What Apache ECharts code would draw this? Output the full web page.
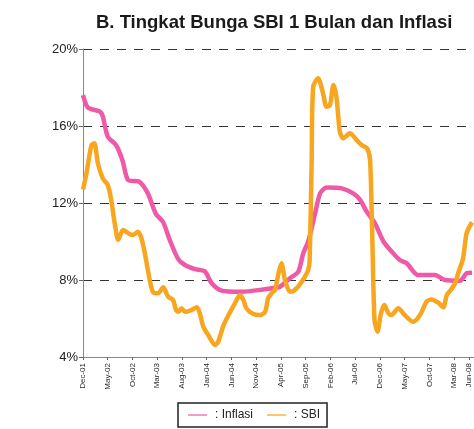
<!DOCTYPE html>
<html>
<head>
<meta charset="utf-8">
<script src="https://cdn.jsdelivr.net/npm/echarts@6/dist/echarts.min.js"></script>
<style>
  html, body { margin: 0; padding: 0; background: #fff; }
  #main { width: 474px; height: 429px; }
</style>
</head>
<body>
<div id="main"></div>
<script>
// month index 0 = Dec-01
var tickMonths = [0, 5, 10, 15, 20, 25, 30, 35, 40, 45, 50, 55, 60, 65, 70, 75, 78];
var tickLabels = ["Dec-01", "May-02", "Oct-02", "Mar-03", "Aug-03", "Jan-04", "Jun-04", "Nov-04", "Apr-05",
  "Sep-05", "Feb-06", "Jul-06", "Dec-06", "May-07", "Oct-07", "Mar-08", "Jun-08"];

var inflasiMonth = [0, 1, 3.4, 4, 5, 6.7, 8, 9.1, 11.4, 13.1, 14.7, 16.2, 17.5, 19.2, 20.6, 22.6, 24.6, 26, 28, 32,
  36.8, 38.8, 39.8, 41.8, 43.5, 44.5, 45.5, 46.9, 47.9, 49.2, 52.3, 54.6, 56, 57.2, 59, 60.7, 62.4, 64, 65.4,
  67.7, 71.1, 73.1, 76.2, 77.5, 78.6];
var inflasiValue = [17.6, 16.95, 16.75, 16.5, 15.45, 15.0, 14.2, 13.2, 13.1, 12.5, 11.45, 11.0, 10.1, 9.1, 8.78,
  8.57, 8.45, 7.83, 7.45, 7.39, 7.52, 7.6, 7.65, 8.09, 8.43, 9.39, 10.0, 11.46, 12.5, 12.8, 12.76, 12.5, 12.16,
  11.6, 10.94, 10.0, 9.47, 9.04, 8.87, 8.26, 8.26, 8.0, 7.96, 8.35, 8.38];

var sbiMonth = [0, 0.7, 1.7, 2.3, 3, 4, 5, 5.7, 6.4, 7.1, 7.4, 8.1, 9.4, 10.1, 11.1, 11.8, 12.5, 13.1, 14.1, 15.2,
  16.2, 17.2, 18.2, 18.8, 19.3, 19.9, 20.6, 21.9, 23, 23.6, 24.3, 25.3, 26.7, 27.3, 28.3, 29.4, 30.7, 31.7, 32.4,
  33, 34.4, 35.8, 36.8, 37.4, 38.1, 38.8, 39.5, 40.1, 40.8, 41.8, 42.8, 44.2, 45.5, 45.8, 46.2, 46.5, 47.5, 48.5,
  49.2, 49.9, 50.6, 51.2, 51.9, 52.6, 53.9, 55.3, 56.3, 57.4, 58, 58.4, 58.9, 59.5, 60.2, 60.9, 61.7, 62.3, 63.7,
  65, 66.7, 68.1, 69.4, 70.4, 71.8, 72.8, 73.5, 74.3, 75.2, 75.8, 76.8, 77.5, 78.6];
var sbiValue = [12.7, 13.54, 15.0, 15.1, 14.06, 13.28, 12.94, 12.16, 10.95, 10.08, 10.25, 10.6, 10.39, 10.34,
  10.51, 10.17, 9.39, 8.52, 7.39, 7.31, 7.62, 7.13, 6.96, 6.44, 6.35, 6.53, 6.35, 6.44, 6.58, 6.27, 5.58, 5.14,
  4.62, 4.79, 5.58, 6.18, 6.79, 7.22, 6.96, 6.53, 6.23, 6.18, 6.35, 7.05, 7.31, 7.48, 8.35, 8.87, 8.0, 7.39,
  7.48, 7.91, 8.52, 9.04, 14.23, 18.04, 18.48, 17.7, 17.0, 17.09, 18.13, 17.52, 15.7, 15.36, 15.62, 15.27, 15.01,
  14.84, 14.23, 10.77, 5.92, 5.31, 6.27, 6.7, 6.27, 6.18, 6.53, 6.18, 5.83, 6.18, 6.87, 6.99, 6.82, 6.58, 7.22,
  7.48, 7.83, 8.35, 9.13, 10.43, 11.0];

function pairs(xs, ys) {
  return xs.map(function (x, i) { return [x, ys[i]]; });
}

var chart = echarts.init(document.getElementById('main'));
chart.setOption({
  animation: false,
  backgroundColor: '#fff',
  title: {
    text: 'B. Tingkat Bunga SBI 1 Bulan dan Inflasi',
    left: 96,
    top: 13,
    padding: 0,
    textStyle: { fontFamily: 'Liberation Sans', fontSize: 18.5, fontWeight: 'bold', color: '#1a1a1a' }
  },
  legend: {
    left: 178,
    top: 403,
    padding: [6, 7, 6, 10],
    itemGap: 14,
    itemWidth: 19,
    itemHeight: 2,
    icon: 'rect',
    borderColor: '#222',
    borderWidth: 1.5,
    formatter: function (name) { return ': ' + name; },
    textStyle: { fontFamily: 'Liberation Sans', fontSize: 12, color: '#222', padding: [0, 0, 0, 3] },
    data: [
      { name: 'Inflasi', itemStyle: { color: '#F49BC8' } },
      { name: 'SBI', itemStyle: { color: '#FAC775' } }
    ]
  },
  grid: { left: 83, right: 0, top: 49, bottom: 72 },
  xAxis: {
    type: 'value',
    min: 0,
    max: 79,
    splitLine: { show: false },
    axisLine: { lineStyle: { color: '#888', width: 1 } },
    axisTick: { customValues: tickMonths, length: 3, lineStyle: { color: '#666' } },
    axisLabel: {
      customValues: tickMonths,
      rotate: 90,
      fontFamily: 'Liberation Sans',
      fontSize: 8,
      color: '#2a2a2a',
      margin: 6,
      formatter: function (v) {
        var i = tickMonths.indexOf(Math.round(v));
        return i >= 0 ? tickLabels[i] : '';
      }
    }
  },
  yAxis: {
    type: 'value',
    min: 4,
    max: 20,
    interval: 4,
    axisLine: { show: true, lineStyle: { color: '#888', width: 1 } },
    axisTick: { show: true, length: 4, lineStyle: { color: '#666' } },
    axisLabel: {
      fontFamily: 'Liberation Sans',
      fontSize: 13,
      color: '#222',
      margin: 5,
      formatter: '{value}%'
    },
    splitLine: { lineStyle: { color: '#333', width: 1, type: [9, 8] } }
  },
  series: [
    {
      name: 'Inflasi',
      type: 'line',
      data: pairs(inflasiMonth, inflasiValue),
      smooth: 0.25,
      showSymbol: false,
      color: '#EE5AA5',
      lineStyle: { width: 4.5, color: '#EE5AA5' }
    },
    {
      name: 'SBI',
      type: 'line',
      data: pairs(sbiMonth, sbiValue),
      smooth: 0.25,
      showSymbol: false,
      color: '#F8A51F',
      lineStyle: { width: 4.5, color: '#F8A51F' }
    }
  ]
});
</script>
</body>
</html>
